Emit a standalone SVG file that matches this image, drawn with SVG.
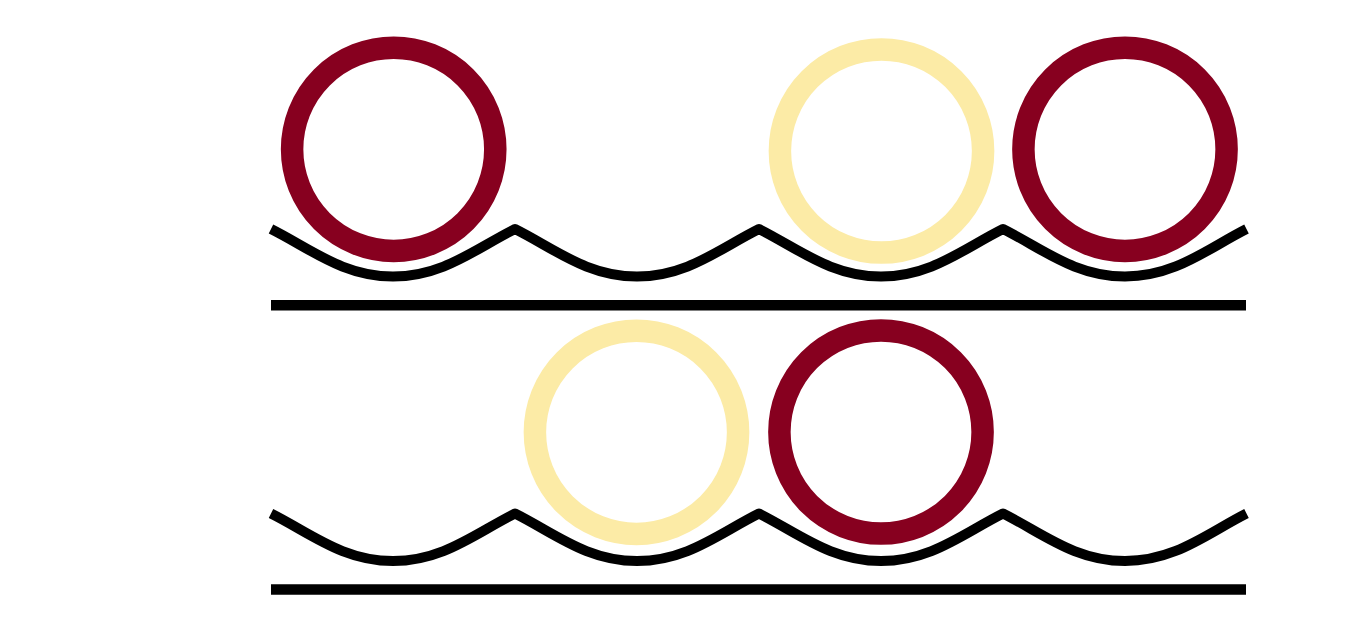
<svg xmlns="http://www.w3.org/2000/svg" width="1350" height="619" viewBox="0 0 1350 619">
<style>
.red{fill:none;stroke:#87001f;stroke-width:22.5}
.yel{fill:none;stroke:#fceba6;stroke-width:22.5}
.wave{fill:none;stroke:#000;stroke-width:10;stroke-linejoin:round}
.flat{stroke:#000;stroke-width:10.5}
</style>
<rect width="1350" height="619" fill="#fff"/>
<g id="connectors">
<path class="wave" d="M271,229 C311,249 343,276.5 393,276.5 C443,276.5 475,249 515,229 C555,249 587,276.5 637,276.5 C687,276.5 719,249 759,229 C799,249 831,276.5 881,276.5 C931,276.5 963,249 1003,229 C1043,249 1075,276.5 1125,276.5 C1175,276.5 1207,249 1246.5,229"/>
<line class="flat" x1="271" y1="305.3" x2="1246" y2="305.3"/>
<path class="wave" d="M271,513.5 C311,533.5 343,561 393,561 C443,561 475,533.5 515,513.5 C555,533.5 587,561 637,561 C687,561 719,533.5 759,513.5 C799,533.5 831,561 881,561 C931,561 963,533.5 1003,513.5 C1043,533.5 1075,561 1125,561 C1175,561 1207,533.5 1246.5,513.5"/>
<line class="flat" x1="271" y1="589.5" x2="1246" y2="589.5"/>
</g>
<g id="c1"><circle class="red" cx="393.7" cy="149.3" r="101.6"/></g>
<g id="c2"><circle class="yel" cx="881.5" cy="151" r="101.6"/></g>
<g id="c3"><circle class="red" cx="1125" cy="149.3" r="101.6"/></g>
<g id="c4"><circle class="yel" cx="636.5" cy="432.3" r="101.6"/></g>
<g id="c5"><circle class="red" cx="881" cy="432" r="101.6"/></g>
</svg>
